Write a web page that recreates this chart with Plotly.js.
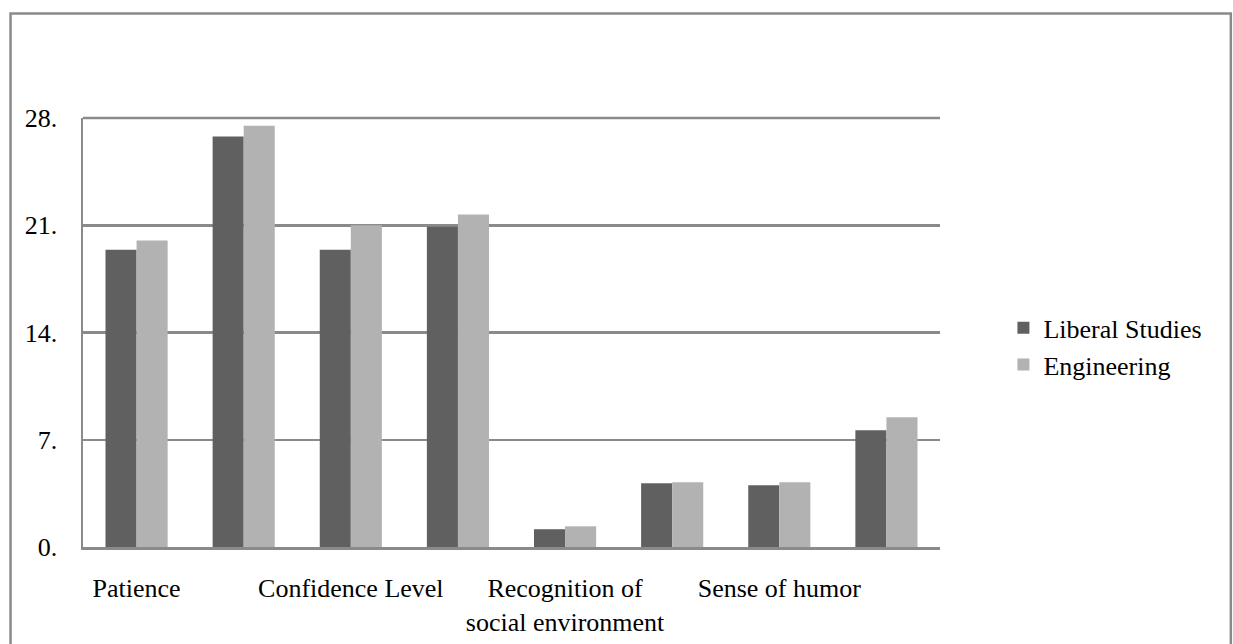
<!DOCTYPE html>
<html><head><meta charset="utf-8">
<script src="https://cdn.plot.ly/plotly-3.0.1.min.js"></script>
<style>html,body{margin:0;padding:0;background:#fff}#chart{width:1233px;height:644px}</style>
</head><body><div id="chart"></div>
<script>
var categories = ["Patience", "", "Confidence Level", "", "Recognition of<br>social environment", "", "Sense of humor", ""];
var liberalStudies = [19.4, 26.8, 19.4, 20.9, 1.16, 4.16, 4.03, 7.62];
var engineering = [20.0, 27.5, 21.0, 21.7, 1.35, 4.23, 4.23, 8.47];
var yTickVals = [0, 7, 14, 21, 28];
var yTickText = ["0.", "7.", "14.", "21.", "28."];

var idx = categories.map(function(_, i){ return i; });
var xTickVals = idx.filter(function(i){ return categories[i] !== ""; });
var xTickText = xTickVals.map(function(i){ return categories[i]; });

var W = 1233, H = 644;
var mL = 82.5, mR = 293, mT = 117.5, mB = 97.3;
var pw = W - mL - mR, ph = H - mT - mB;
function px(x){ return (x - mL) / pw; }
function py(y){ return (H - mB - y) / ph; }

var font = {family: "Liberation Serif", size: 26, color: "#000"};

var traces = [
  {type: "bar", name: "Liberal Studies", x: idx, y: liberalStudies, marker: {color: "#606060"}, hoverinfo: "skip"},
  {type: "bar", name: "Engineering", x: idx, y: engineering, marker: {color: "#b2b2b2"}, hoverinfo: "skip"}
];

var layout = {
  width: W, height: H,
  margin: {l: mL, r: mR, t: mT, b: mB, pad: 0},
  paper_bgcolor: "#fff", plot_bgcolor: "#fff",
  font: font,
  barmode: "group", bargap: 0.42, bargroupgap: 0,
  showlegend: true,
  legend: {x: 1.074, xanchor: "left", y: 0.468, yanchor: "middle", font: font, tracegroupgap: 0, itemwidth: 30},
  xaxis: {range: [-0.5, 7.5], tickmode: "array", tickvals: xTickVals, ticktext: xTickText,
          showgrid: false, zeroline: false, showline: true, linecolor: "#8a8a8a", linewidth: 2.5,
          ticks: "", ticklabelstandoff: 16, tickangle: 0, fixedrange: true},
  yaxis: {range: [0, 28], tickmode: "array", tickvals: yTickVals, ticktext: yTickText,
          showgrid: true, gridcolor: "#8a8a8a", gridwidth: 2.5, zeroline: false,
          showline: true, linecolor: "#8a8a8a", linewidth: 2.5, ticks: "", ticklabelstandoff: 18, fixedrange: true},
  shapes: [
    {type: "rect", xref: "paper", yref: "paper", x0: px(10), x1: px(1231), y0: py(660), y1: py(13),
     line: {color: "#8a8a8a", width: 2.5}, fillcolor: "rgba(0,0,0,0)", layer: "below"},
    {type: "line", xref: "paper", yref: "paper", x0: 0, x1: 1, y0: 1, y1: 1,
     line: {color: "#8a8a8a", width: 2.5}, layer: "below"}
  ]
};

Plotly.newPlot("chart", traces, layout, {displayModeBar: false, staticPlot: true});
</script>
</body></html>
